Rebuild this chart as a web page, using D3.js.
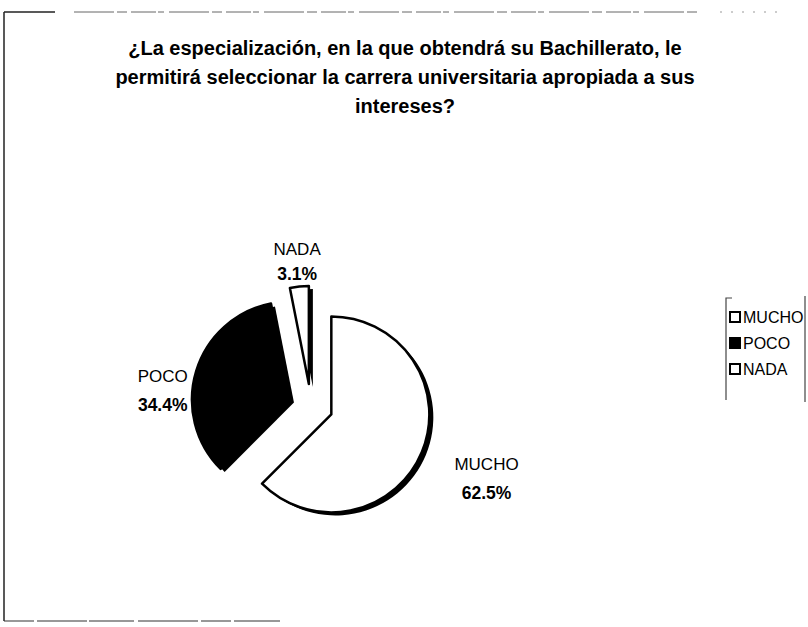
<!DOCTYPE html>
<html>
<head>
<meta charset="utf-8">
<script src="https://cdn.jsdelivr.net/npm/d3@7"></script>
<style>
  body { margin: 0; background: #fff; }
  text { font-family: "Liberation Sans", Arial, sans-serif; fill: #000; }
</style>
</head>
<body>
<svg id="plot"></svg>
<script>
// Chart data
const categories = ["MUCHO", "POCO", "NADA"];
const percents = [62.5, 34.4, 3.1];
const titleLines = [
  "¿La especialización, en la que obtendrá su Bachillerato, le",
  "permitirá seleccionar la carrera universitaria apropiada a sus",
  "intereses?"
];

const width = 808, height = 627;

const svg = d3.select("#plot")
    .attr("width", width)
    .attr("height", height)
    .style("background", "#FFFFFF");

// scanned frame: solid left edge, broken top/bottom edges
svg.append("line").attr("x1", 4).attr("y1", 12).attr("x2", 4).attr("y2", 621)
    .attr("stroke", "#222").attr("stroke-width", 1.5);
svg.append("line").attr("x1", 4).attr("y1", 12).attr("x2", 55).attr("y2", 12)
    .attr("stroke", "#222").attr("stroke-width", 1.5);
svg.append("line").attr("x1", 74).attr("y1", 12).attr("x2", 700).attr("y2", 12)
    .attr("stroke", "#666").attr("stroke-width", 1)
    .attr("stroke-dasharray", "40,3,10,4,25,2,6,5");
svg.append("line").attr("x1", 720).attr("y1", 12).attr("x2", 785).attr("y2", 12)
    .attr("stroke", "#999").attr("stroke-width", 1)
    .attr("stroke-dasharray", "2,9");
svg.append("line").attr("x1", 4).attr("y1", 621).attr("x2", 280).attr("y2", 621)
    .attr("stroke", "#333").attr("stroke-width", 1.2)
    .attr("stroke-dasharray", "30,3,50,2,45,4,60,3");

// Title
svg.append("g").selectAll("text")
    .data(titleLines)
    .enter().append("text")
    .attr("x", 405)
    .attr("y", (d, i) => 55 + i * 29)
    .attr("text-anchor", "middle")
    .style("font-size", "20px")
    .style("font-weight", "bold")
    .text(d => d);

// Pie
const cx = 311, cy = 406, radius = 98, explode = 22;
const color = d3.scaleOrdinal().domain(categories).range(["#ffffff", "#000000", "#ffffff"]);

const pie = d3.pie().sort(null).value(d => d.value);
const arcs = pie(categories.map((c, i) => ({ name: c, value: percents[i] })));
const arc = d3.arc().innerRadius(0).outerRadius(radius);

function offset(d, r) {
  const a = (d.startAngle + d.endAngle) / 2;
  return [Math.sin(a) * r, -Math.cos(a) * r];
}

const g = svg.append("g").attr("transform", "translate(" + cx + "," + cy + ")");

// depth shadow
g.selectAll(".shadow")
    .data(arcs)
    .enter().append("path")
    .attr("class", "shadow")
    .attr("transform", d => {
      const o = offset(d, explode);
      return "translate(" + (o[0] + 4) + "," + (o[1] + 3) + ")";
    })
    .attr("d", arc)
    .attr("fill", "#000");

g.selectAll(".slice")
    .data(arcs)
    .enter().append("path")
    .attr("class", "slice")
    .attr("transform", d => "translate(" + offset(d, explode).join(",") + ")")
    .attr("d", arc)
    .attr("fill", d => color(d.data.name))
    .attr("stroke", "#000")
    .attr("stroke-width", 2.5)
    .attr("stroke-linejoin", "round");

// data labels
const labelRadius = { MUCHO: 190, POCO: 155, NADA: 143 };
const labelNudge = { MUCHO: 0, POCO: 30, NADA: 0 };
const labelGap = { MUCHO: 29, POCO: 29, NADA: 25 };
const labels = g.selectAll(".label")
    .data(arcs)
    .enter().append("g")
    .attr("class", "label")
    .attr("transform", d => {
      const o = offset(d, labelRadius[d.data.name]);
      return "translate(" + o[0] + "," + (o[1] + labelNudge[d.data.name]) + ")";
    });
labels.append("text")
    .attr("text-anchor", "middle")
    .attr("y", -9)
    .style("font-size", "17px")
    .text(d => d.data.name);
labels.append("text")
    .attr("text-anchor", "middle")
    .attr("y", d => -9 + labelGap[d.data.name])
    .style("font-size", "17.5px")
    .style("font-weight", "bold")
    .text(d => d.data.value.toFixed(1) + "%");

// Legend
const legend = svg.append("g").attr("transform", "translate(726,298)");
legend.append("path")
    .attr("d", "M6,0 L0,0 L0,102 M79,-2 L79,104")
    .attr("fill", "none")
    .attr("stroke", "#444")
    .attr("stroke-width", 1.2);
const items = legend.selectAll(".item")
    .data(categories)
    .enter().append("g")
    .attr("class", "item")
    .attr("transform", (d, i) => "translate(4," + (21 + i * 26) + ")");
items.append("rect")
    .attr("x", 0).attr("y", -7)
    .attr("width", 10).attr("height", 10)
    .attr("fill", d => color(d))
    .attr("stroke", "#000")
    .attr("stroke-width", 2);
items.append("text")
    .attr("x", 13)
    .attr("y", 4)
    .style("font-size", "16px")
    .text(d => d);
</script>
</body>
</html>
